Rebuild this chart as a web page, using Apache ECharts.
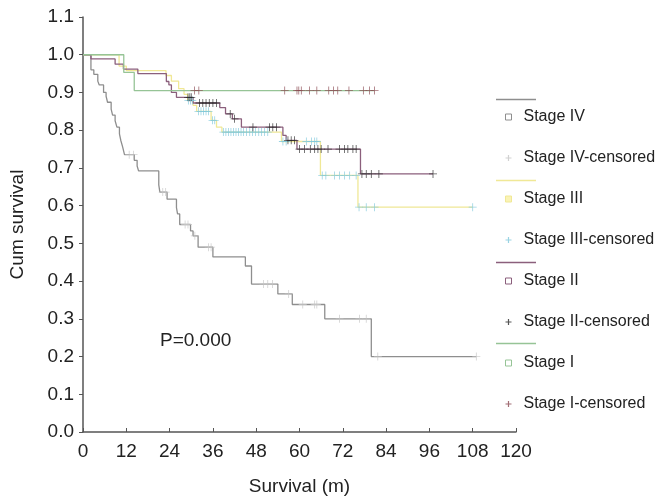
<!DOCTYPE html>
<html>
<head>
<meta charset="utf-8">
<script src="https://cdn.jsdelivr.net/npm/echarts@6/dist/echarts.min.js"></script>
<style>
html,body{margin:0;padding:0;background:#fff;}
#chart{width:662px;height:501px;}
</style>
</head>
<body>
<div id="chart"></div>
<script>
// ---- Data (months, cumulative survival) ----
var xTicks = [0, 12, 24, 36, 48, 60, 72, 84, 96, 108, 120];
var yTicks = [0.0, 0.1, 0.2, 0.3, 0.4, 0.5, 0.6, 0.7, 0.8, 0.9, 1.0, 1.1];

var stage4Curve = [[0,1.0],[2.2,0.96],[3.0,0.948],[4.1,0.93],[4.5,0.92],[5.7,0.90],[6.4,0.89],[6.8,0.874],[7.8,0.856],[8.2,0.84],[8.9,0.825],[9.4,0.808],[10.1,0.79],[10.5,0.772],[11.0,0.755],[11.5,0.735],[14.2,0.72],[15.0,0.705],[15.4,0.692],[21.0,0.655],[21.3,0.636],[23.3,0.617],[25.9,0.595],[26.2,0.578],[26.8,0.55],[29.8,0.533],[30.5,0.52],[31.9,0.49],[36.0,0.464],[45.0,0.44],[46.7,0.392],[54.0,0.366],[58.0,0.338],[67.0,0.30],[79.9,0.20],[109,0.20]];
var stage4Censored = [[12.8,0.735],[14.0,0.735],[22.1,0.636],[22.9,0.636],[28.3,0.55],[29.1,0.55],[31.0,0.52],[34.8,0.49],[35.5,0.49],[50.0,0.392],[51.2,0.392],[52.5,0.392],[57.0,0.366],[60.9,0.338],[64.2,0.338],[64.8,0.338],[71.1,0.30],[76.6,0.30],[78.5,0.30],[81.7,0.20],[109,0.20]];

var stage3Curve = [[0,1.0],[10.0,0.97],[12.0,0.958],[23.0,0.945],[24.5,0.93],[26.5,0.91],[28.0,0.895],[29.0,0.879],[30.5,0.866],[31.5,0.85],[35.5,0.826],[37.0,0.808],[38.5,0.795],[55.0,0.77],[65.8,0.68],[76.2,0.596],[108,0.596]];
var stage3Censored = [[29.2,0.879],[29.8,0.879],[30.3,0.879],[32.0,0.85],[32.7,0.85],[33.4,0.85],[34.1,0.85],[34.8,0.85],[35.9,0.826],[36.5,0.826],[38.9,0.795],[39.6,0.795],[40.3,0.795],[41.0,0.795],[41.7,0.795],[42.4,0.795],[43.1,0.795],[43.8,0.795],[44.5,0.795],[45.3,0.795],[46.2,0.795],[47.0,0.795],[47.8,0.795],[48.7,0.795],[49.5,0.795],[50.3,0.795],[51.2,0.795],[55.4,0.77],[56.3,0.77],[61.9,0.77],[63.3,0.77],[64.2,0.77],[64.8,0.77],[66.3,0.68],[67.3,0.68],[69.7,0.68],[71.1,0.68],[72.5,0.68],[73.9,0.68],[75.7,0.68],[76.5,0.596],[78.5,0.596],[80.8,0.596],[108,0.596]];

var stage2Curve = [[0,1.0],[2.2,0.989],[8.9,0.975],[11.2,0.962],[15.2,0.95],[23.1,0.929],[23.8,0.92],[24.5,0.90],[25.9,0.887],[30.5,0.872],[37.9,0.86],[39.5,0.843],[41.4,0.83],[43.9,0.808],[55.4,0.786],[56.3,0.773],[59.3,0.75],[76.9,0.684],[97,0.684]];
var stage2Censored = [[29.1,0.887],[29.6,0.887],[30.0,0.887],[32.3,0.872],[33.2,0.872],[34.1,0.872],[35.0,0.872],[36.0,0.872],[37.0,0.872],[40.8,0.843],[42.0,0.83],[47.1,0.808],[51.7,0.808],[52.6,0.808],[53.6,0.808],[56.8,0.773],[57.7,0.773],[58.6,0.773],[60.0,0.75],[61.4,0.75],[63.0,0.75],[64.2,0.75],[65.1,0.75],[66.0,0.75],[67.9,0.75],[71.1,0.75],[72.5,0.75],[73.4,0.75],[74.8,0.75],[75.7,0.75],[77.3,0.684],[78.5,0.684],[79.9,0.684],[82.0,0.684],[97.0,0.684]];

var stage1Curve = [[0,1.0],[11.3,0.953],[14.2,0.905],[80.8,0.905]];
var stage1Censored = [[30.9,0.905],[32.1,0.905],[55.9,0.905],[59.3,0.905],[59.8,0.905],[60.5,0.905],[62.8,0.905],[64.8,0.905],[68.1,0.905],[69.4,0.905],[70.6,0.905],[73.7,0.905],[77.7,0.905],[79.4,0.905],[80.8,0.905]];

var seriesNames = ['Stage IV','Stage IV-censored','Stage III','Stage III-censored','Stage II','Stage II-censored','Stage I','Stage I-censored'];
var pValueText = 'P=0.000';

// ---- Styles ----
var FONT = '"Liberation Sans", Arial, Helvetica, sans-serif';
var plusPath = 'path://M4.5,0h1v4.5h4.5v1h-4.5v4.5h-1v-4.5h-4.5v-1h4.5z';
var plusIcon = 'path://M4,0h2v4h4v2h-4v4h-2v-4h-4v-2h4z';
var colors = {
  s4: '#8e8e8e', s4c: '#c6c6c6',
  s3: '#f0e896', s3c: '#7fc8dc',
  s2: '#8b5f7c', s2c: '#2a2a2a',
  s1: '#96c496', s1c: '#8b4a52'
};

function curve(name, data, color) {
  return { name: name, type: 'line', step: 'end', data: data, showSymbol: false,
    symbol: 'none', lineStyle: { color: color, width: 1.3 }, itemStyle: { color: color },
    animation: false, z: 2 };
}
function censor(name, data, color) {
  return { name: name, type: 'scatter', data: data, symbol: plusPath, symbolSize: 8,
    itemStyle: { color: color }, animation: false, z: 3 };
}

var chart = echarts.init(document.getElementById('chart'));
var legendData = [
  { name: seriesNames[0], icon: 'rect', itemStyle: { color: '#fff', borderColor: colors.s4, borderWidth: 1 } },
  { name: seriesNames[1], icon: plusIcon, itemStyle: { color: colors.s4c } },
  { name: seriesNames[2], icon: 'rect', itemStyle: { color: '#faf3b5', borderColor: colors.s3, borderWidth: 1 } },
  { name: seriesNames[3], icon: plusIcon, itemStyle: { color: colors.s3c } },
  { name: seriesNames[4], icon: 'rect', itemStyle: { color: '#fff', borderColor: colors.s2, borderWidth: 1 } },
  { name: seriesNames[5], icon: plusIcon, itemStyle: { color: colors.s2c } },
  { name: seriesNames[6], icon: 'rect', itemStyle: { color: '#fff', borderColor: colors.s1, borderWidth: 1 } },
  { name: seriesNames[7], icon: plusIcon, itemStyle: { color: colors.s1c } }
];

chart.setOption({
  backgroundColor: '#fff',
  animation: false,
  grid: { left: 83, right: 146, top: 17, bottom: 68, containLabel: false },
  xAxis: {
    type: 'value', min: 0, max: 120, interval: 12,
    name: 'Survival (m)', nameLocation: 'middle', nameGap: 45,
    nameTextStyle: { fontFamily: FONT, fontSize: 19, color: '#222' },
    axisLine: { show: true, lineStyle: { color: '#555', width: 1.5 } },
    axisTick: { show: true, inside: true, length: 4, lineStyle: { color: '#555' } },
    axisLabel: { fontFamily: FONT, fontSize: 19, color: '#222', margin: 10,
      formatter: function (v) { return xTicks.indexOf(v) >= 0 ? String(v) : ''; } },
    splitLine: { show: false }
  },
  yAxis: {
    type: 'value', min: 0, max: 1.1, interval: 0.1,
    name: 'Cum survival', nameLocation: 'middle', nameGap: 56, nameRotate: 90,
    nameTextStyle: { fontFamily: FONT, fontSize: 19, color: '#222' },
    axisLine: { show: true, lineStyle: { color: '#555', width: 1.5 } },
    axisTick: { show: true, inside: false, length: 4, lineStyle: { color: '#555' } },
    axisLabel: { fontFamily: FONT, fontSize: 19, color: '#222', margin: 9,
      formatter: function (v) {
        var r = Math.round(v * 10) / 10;
        return yTicks.indexOf(r) >= 0 ? r.toFixed(1) : '';
      } },
    splitLine: { show: false }
  },
  legend: {
    orient: 'vertical', left: 500, top: 104,
    itemWidth: 6, itemHeight: 6, itemGap: 25,
    textStyle: { fontFamily: FONT, fontSize: 16, color: '#222', padding: [0, 0, 0, 7], lineHeight: 16 },
    data: legendData,
    selectedMode: false
  },
  graphic: [
    { type: 'line', shape: { x1: 496, y1: 99.5, x2: 536, y2: 99.5 }, style: { stroke: colors.s4, lineWidth: 1.3 } },
    { type: 'line', shape: { x1: 496, y1: 180.5, x2: 536, y2: 180.5 }, style: { stroke: colors.s3, lineWidth: 1.3 } },
    { type: 'line', shape: { x1: 496, y1: 262.5, x2: 536, y2: 262.5 }, style: { stroke: colors.s2, lineWidth: 1.3 } },
    { type: 'line', shape: { x1: 496, y1: 343.5, x2: 536, y2: 343.5 }, style: { stroke: colors.s1, lineWidth: 1.3 } },
    { type: 'text', left: 160, top: 331, style: { text: pValueText, font: '19px ' + FONT, fill: '#222' } }
  ],
  series: [
    curve(seriesNames[0], stage4Curve, colors.s4),
    censor(seriesNames[1], stage4Censored, colors.s4c),
    curve(seriesNames[2], stage3Curve, colors.s3),
    censor(seriesNames[3], stage3Censored, colors.s3c),
    curve(seriesNames[4], stage2Curve, colors.s2),
    censor(seriesNames[5], stage2Censored, colors.s2c),
    curve(seriesNames[6], stage1Curve, colors.s1),
    censor(seriesNames[7], stage1Censored, colors.s1c)
  ]
});
</script>
</body>
</html>
